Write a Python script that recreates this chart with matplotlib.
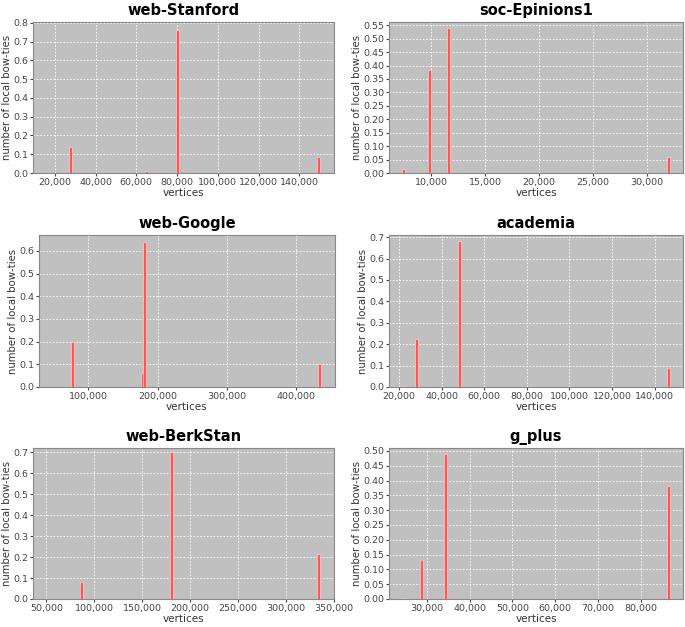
import matplotlib
matplotlib.use("Agg")
import matplotlib.pyplot as plt
from matplotlib.ticker import FuncFormatter, MultipleLocator

plt.rcParams["font.family"] = "DejaVu Sans"

# ── data ──────────────────────────────────────────────────────────────────────
stanford_x = [17000, 27500, 65000, 80000, 149500]
stanford_y = [0.002, 0.14, 0.012, 0.76, 0.085]

epinions_x = [7400, 9850, 11580, 32050]
epinions_y = [0.015, 0.385, 0.54, 0.058]

google_x = [49000, 76800, 177800, 181300, 434300]
google_y = [0.002, 0.20, 0.063, 0.64, 0.10]

academia_x = [22000, 28000, 48200, 146600]
academia_y = [0.005, 0.225, 0.68, 0.09]

berkstan_x = [86500, 176000, 180200, 322000, 333700]
berkstan_y = [0.083, 0.002, 0.70, 0.002, 0.215]

gplus_x = [24400, 28800, 34400, 86600]
gplus_y = [0.004, 0.132, 0.49, 0.38]

# name, x, y, xlim, ylim, xstep, ystep, ytick format, axes box in px (l, t, r, b)
PANELS = [
    ("web-Stanford",  stanford_x, stanford_y, (9300, 157000),  (0, 0.805), 20000, 0.1,  "%.1f", (33, 22, 334, 173)),
    ("soc-Epinions1", epinions_x, epinions_y, (6070, 33370),   (0, 0.562), 5000,  0.05, "%.2f", (389, 22, 683, 173)),
    ("web-Google",    google_x,   google_y,   (29000, 456000), (0, 0.67),  100000, 0.1, "%.1f", (39, 235, 335, 387)),
    ("academia",      academia_x, academia_y, (15300, 153300), (0, 0.71),  20000, 0.1,  "%.1f", (389, 235, 683, 387)),
    ("web-BerkStan",  berkstan_x, berkstan_y, (36000, 350000), (0, 0.72),  50000, 0.1,  "%.1f", (33, 448, 334, 599)),
    ("g_plus",        gplus_x,    gplus_y,    (21100, 89900),  (0, 0.51),  10000, 0.05, "%.2f", (389, 448, 683, 599)),
]

W, H = 685, 627
fig = plt.figure(figsize=(W / 100, H / 100), dpi=100)
fig.patch.set_facecolor("white")

for name, xs, ys, xlim, ylim, xstep, ystep, yfmt, (l, t, r, b) in PANELS:
    ax = fig.add_axes([l / W, 1 - b / H, (r - l) / W, (b - t) / H])
    ax.set_facecolor("#c0c0c0")
    width = (xlim[1] - xlim[0]) * 0.01
    ax.bar(xs, ys, width=width, color="#ff5555", edgecolor="#ffd0d0", linewidth=0.5, zorder=3)
    ax.set_xlim(*xlim)
    ax.set_ylim(*ylim)
    ax.xaxis.set_major_locator(MultipleLocator(xstep))
    ax.yaxis.set_major_locator(MultipleLocator(ystep))
    ax.xaxis.set_major_formatter(FuncFormatter(lambda v, p: f"{int(v):,}"))
    ax.yaxis.set_major_formatter(FuncFormatter(lambda v, p, f=yfmt: f % v))
    ax.grid(color="white", linestyle=(0, (2, 2)), linewidth=0.6, zorder=0)
    ax.tick_params(labelsize=6.8, colors="#444444", length=2, pad=1.5)
    for s in ax.spines.values():
        s.set_color("#888888")
    ax.set_xlabel("vertices", fontsize=7.5, color="#333333", labelpad=1)
    ax.set_ylabel("number of local bow-ties", fontsize=7.3, color="#333333", labelpad=1)
    ax.set_title(name, fontsize=10.5, fontweight="bold", pad=5)

plt.savefig("out.png", dpi=100)
